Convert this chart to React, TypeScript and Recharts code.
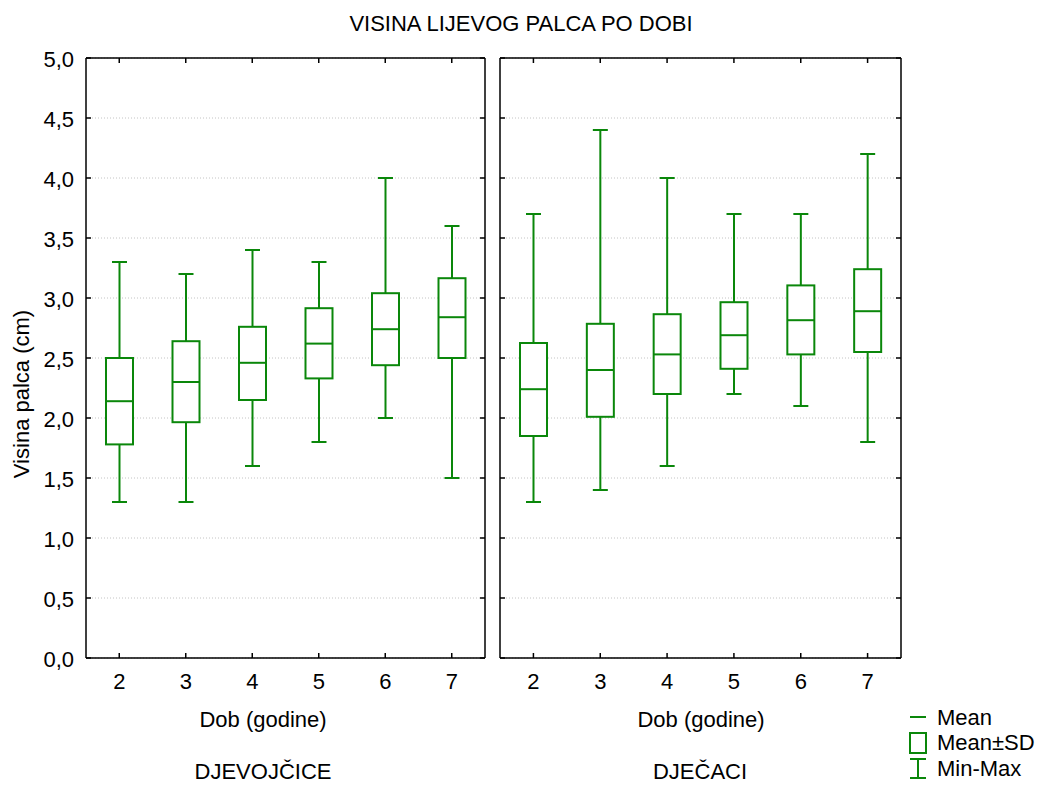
import React from "react";
import { ComposedChart, Bar, XAxis, YAxis, CartesianGrid } from "recharts";

// categories (age in years)
const AGES = ["2", "3", "4", "5", "6", "7"];

// DJEVOJČICE (girls)
const GIRLS_MIN = [1.3, 1.3, 1.6, 1.8, 2.0, 1.5];
const GIRLS_SD_LOW = [1.78, 1.965, 2.15, 2.33, 2.44, 2.5];
const GIRLS_MEAN = [2.14, 2.3, 2.46, 2.62, 2.74, 2.84];
const GIRLS_SD_HIGH = [2.5, 2.64, 2.76, 2.915, 3.04, 3.165];
const GIRLS_MAX = [3.3, 3.2, 3.4, 3.3, 4.0, 3.6];

// DJEČACI (boys)
const BOYS_MIN = [1.3, 1.4, 1.6, 2.2, 2.1, 1.8];
const BOYS_SD_LOW = [1.85, 2.01, 2.2, 2.41, 2.53, 2.55];
const BOYS_MEAN = [2.24, 2.4, 2.53, 2.69, 2.815, 2.89];
const BOYS_SD_HIGH = [2.625, 2.785, 2.865, 2.965, 3.105, 3.24];
const BOYS_MAX = [3.7, 4.4, 4.0, 3.7, 3.7, 4.2];

const Y_TICKS = [0, 0.5, 1, 1.5, 2, 2.5, 3, 3.5, 4, 4.5, 5];

const GREEN = "#0a870a";
const FONT = "'Liberation Sans', Arial, sans-serif";

// plot frame inside each chart (chart coords)
const PLOT_TOP = 58;
const PLOT_BOTTOM = 658;
const TICK_LEN = 5;

type Row = { age: string; min: number; sdLow: number; mean: number; sdHigh: number; max: number };

function buildRows(min: number[], sdLow: number[], mean: number[], sdHigh: number[], max: number[]): Row[] {
  return AGES.map((age, i) => ({
    age,
    min: min[i],
    sdLow: sdLow[i],
    mean: mean[i],
    sdHigh: sdHigh[i],
    max: max[i],
  }));
}

const girlsData = buildRows(GIRLS_MIN, GIRLS_SD_LOW, GIRLS_MEAN, GIRLS_SD_HIGH, GIRLS_MAX);
const boysData = buildRows(BOYS_MIN, BOYS_SD_LOW, BOYS_MEAN, BOYS_SD_HIGH, BOYS_MAX);

// the bar spans min..max; the box and mean are placed on the same pixel scale
function BoxShape(props: any) {
  const { x, y, width, height, payload } = props;
  if (!payload) return null;
  const top = Math.min(y, y + height);
  const h = Math.abs(height);
  const span = payload.max - payload.min;
  const py = (v: number) => top + ((payload.max - v) / span) * h;
  const cx = x + width / 2;
  const cap = 7.5;
  return (
    <g stroke={GREEN} strokeWidth={2} fill="none">
      <line x1={cx} x2={cx} y1={py(payload.max)} y2={py(payload.min)} />
      <line x1={cx - cap} x2={cx + cap} y1={py(payload.max)} y2={py(payload.max)} />
      <line x1={cx - cap} x2={cx + cap} y1={py(payload.min)} y2={py(payload.min)} />
      <rect
        x={x}
        y={py(payload.sdHigh)}
        width={width}
        height={py(payload.sdLow) - py(payload.sdHigh)}
        fill="#fff"
      />
      <line x1={x} x2={x + width} y1={py(payload.mean)} y2={py(payload.mean)} />
    </g>
  );
}

const fmt = (v: number) => v.toFixed(1).replace(".", ",");

// y ticks point inward from the frame edge; dir = 1 for left edge, -1 for right edge
function YTick(props: any) {
  const { y, payload, edge, dir, labels } = props;
  return (
    <g>
      <line x1={edge} x2={edge + dir * TICK_LEN} y1={y} y2={y} stroke="#000" strokeWidth={1.5} />
      {labels && (
        <text x={edge - 12} y={y + 9} textAnchor="end" fontSize={22} fontFamily={FONT} fill="#000">
          {fmt(payload.value)}
        </text>
      )}
    </g>
  );
}

function XTick(props: any) {
  const { x, payload, bottom } = props;
  const edge = bottom ? PLOT_BOTTOM : PLOT_TOP;
  const dir = bottom ? -1 : 1;
  return (
    <g>
      <line x1={x} x2={x} y1={edge} y2={edge + dir * TICK_LEN} stroke="#000" strokeWidth={1.5} />
      {bottom && (
        <text x={x} y={PLOT_BOTTOM + 31} textAnchor="middle" fontSize={22} fontFamily={FONT} fill="#000">
          {payload.value}
        </text>
      )}
    </g>
  );
}

const axisStroke = { stroke: "#000", strokeWidth: 1.5 };

function Panel({ data, showLabels, width, yAxisWidth }: { data: Row[]; showLabels: boolean; width: number; yAxisWidth: number }) {
  const right = width - 4 - 1;
  return (
    <ComposedChart width={width} height={700} data={data} margin={{ top: PLOT_TOP - 1, right: 4, bottom: 12, left: 0 }} barCategoryGap={0}>
      <CartesianGrid vertical={false} stroke="#c4c4c4" strokeDasharray="1 2" />
      <XAxis
        dataKey="age"
        height={30}
        axisLine={axisStroke}
        tickLine={false}
        tick={<XTick bottom />}
        interval={0}
      />
      <XAxis
        xAxisId="top"
        dataKey="age"
        orientation="top"
        height={1}
        axisLine={axisStroke}
        tickLine={false}
        tick={<XTick bottom={false} />}
        interval={0}
      />
      <YAxis
        type="number"
        domain={[0, 5]}
        ticks={Y_TICKS}
        width={yAxisWidth}
        axisLine={axisStroke}
        tickLine={false}
        tick={<YTick edge={yAxisWidth} dir={1} labels={showLabels} />}
        interval={0}
      />
      <YAxis
        yAxisId="right"
        orientation="right"
        type="number"
        domain={[0, 5]}
        allowDataOverflow
        ticks={Y_TICKS}
        width={1}
        axisLine={axisStroke}
        tickLine={false}
        tick={<YTick edge={right} dir={-1} labels={false} />}
        interval={0}
      />
      <Bar
        dataKey={(d: Row) => [d.min, d.max]}
        barSize={27}
        shape={<BoxShape />}
        isAnimationActive={false}
      />
    </ComposedChart>
  );
}

const txt = { fontFamily: FONT, fontSize: 22, fill: "#000" } as const;

export default function App() {
  return (
    <div style={{ position: "absolute", left: 0, top: 0, width: 1039, height: 786, background: "#fff" }}>
      <div style={{ position: "absolute", left: 0, top: 0 }}>
        <Panel data={girlsData} showLabels width={490} yAxisWidth={86} />
      </div>
      <div style={{ position: "absolute", left: 480, top: 0 }}>
        <Panel data={boysData} showLabels={false} width={426} yAxisWidth={20} />
      </div>
      <svg width={1039} height={786} style={{ position: "absolute", left: 0, top: 0, pointerEvents: "none" }}>
        <text x={521} y={31} textAnchor="middle" {...txt}>VISINA LIJEVOG PALCA PO DOBI</text>
        <text x={29} y={394} textAnchor="middle" transform="rotate(-90 29 394)" {...txt}>Visina palca (cm)</text>
        <text x={263} y={727} textAnchor="middle" {...txt}>Dob (godine)</text>
        <text x={263} y={779} textAnchor="middle" {...txt}>DJEVOJČICE</text>
        <text x={701} y={727} textAnchor="middle" {...txt}>Dob (godine)</text>
        <text x={700} y={779} textAnchor="middle" {...txt}>DJEČACI</text>
        {/* legend */}
        <g stroke={GREEN} strokeWidth={2} fill="none">
          <line x1={910} x2={926} y1={717} y2={717} />
          <rect x={910} y={733} width={16} height={20} />
          <line x1={918} x2={918} y1={759} y2={778} />
          <line x1={910} x2={926} y1={759} y2={759} />
          <line x1={910} x2={926} y1={778} y2={778} />
        </g>
        <text x={937} y={725} {...txt}>Mean</text>
        <text x={937} y={750} {...txt}>Mean±SD</text>
        <text x={937} y={776} {...txt}>Min-Max</text>
      </svg>
    </div>
  );
}
